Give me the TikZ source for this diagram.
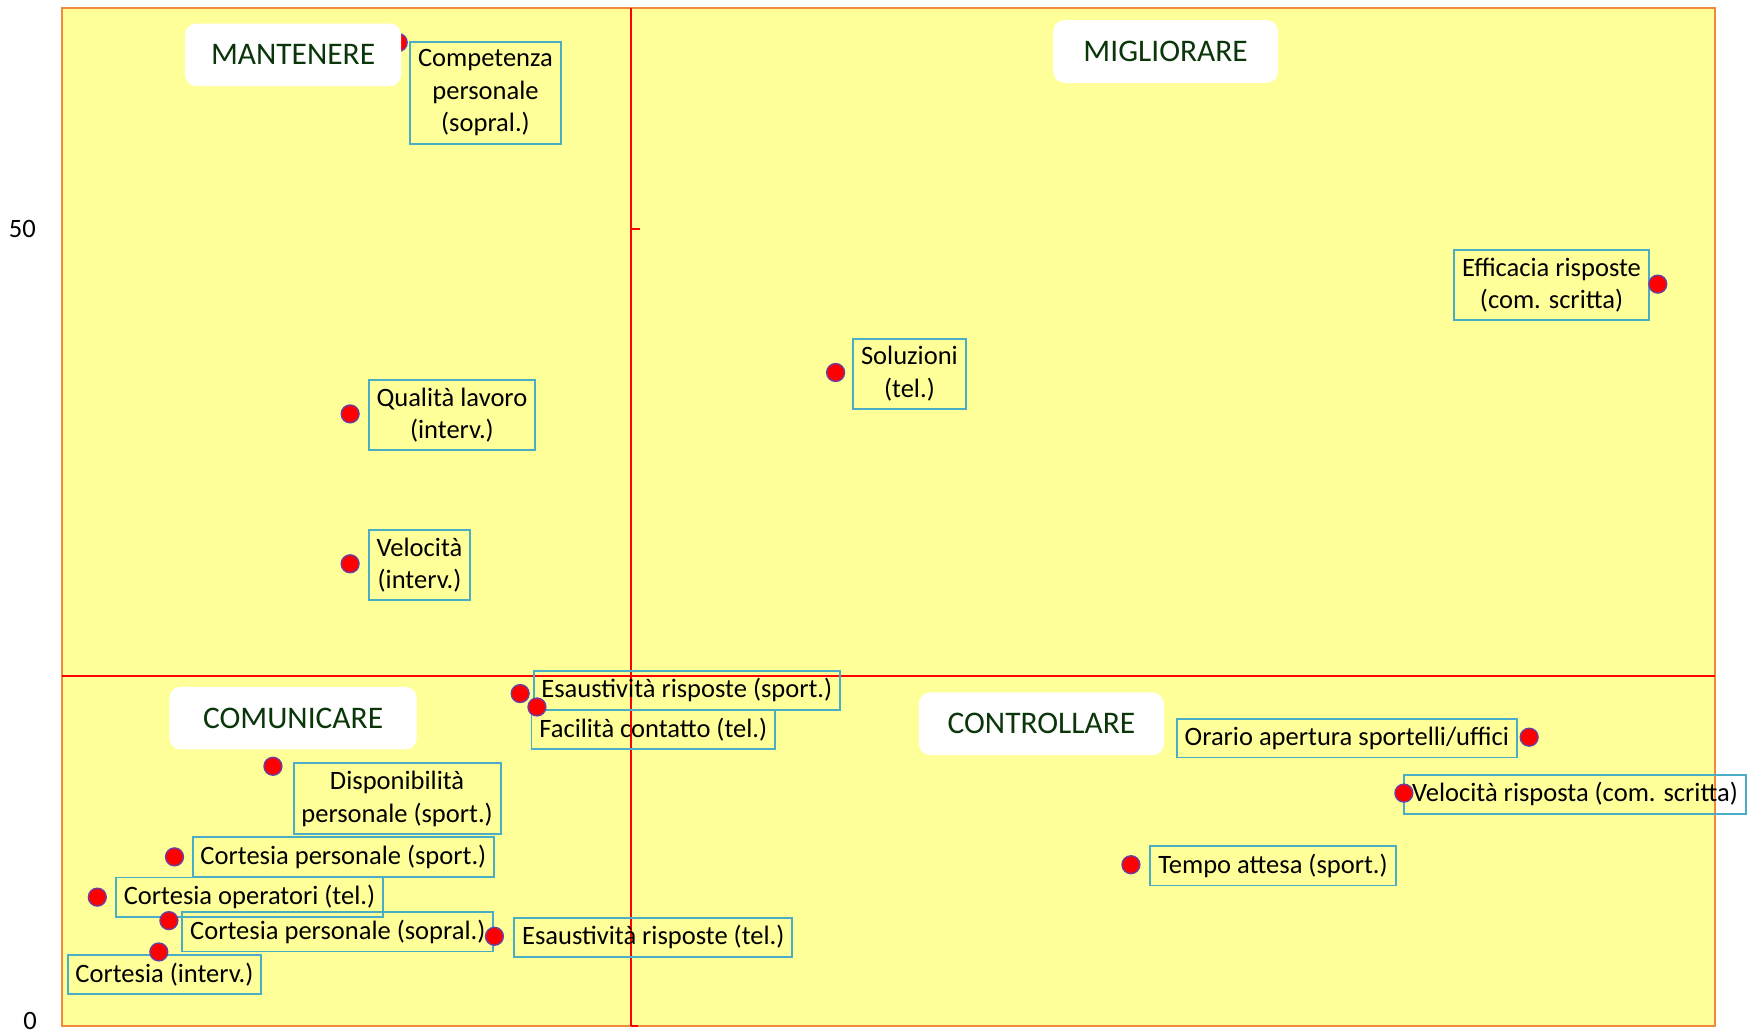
\documentclass[tikz,border=0pt]{standalone}
\usepackage{fontspec}
\setmainfont{Carlito}
\definecolor{giallo}{HTML}{FFFF99}
\definecolor{arancio}{HTML}{F08A3C}
\definecolor{azzurro}{HTML}{4BACC6}
\definecolor{viola}{HTML}{6A3FA0}
\definecolor{verdescuro}{HTML}{0A360A}

\begin{document}
\begin{tikzpicture}[x=0.02cm,y=-0.02cm,
  punto/.style={circle,fill=red,draw=viola,line width=0.7pt,minimum size=0.32cm,inner sep=0pt},
  etichetta/.style={draw=azzurro,line width=1pt,align=center,inner xsep=0.14cm,inner ysep=0.14cm,font=\fontsize{13.5}{16.5}\selectfont},
  quadrante/.style={fill=white,rounded corners=0.2cm,text=verdescuro,minimum height=1.12cm,inner xsep=0.2cm,font=\fontsize{16}{19}\selectfont},
  valore/.style={font=\fontsize{13.5}{16.5}\selectfont}]
\useasboundingbox (0,0) rectangle (1568,924);

%area del grafico
\draw[fill=giallo,draw=arancio,line width=1pt] (55,7) rectangle (1533,917);

%assi
\draw[red,line width=1pt] (564,7) -- (564,917);
\draw[red,line width=1pt] (55,604) -- (1533,604);
\draw[red,line width=1pt] (564,205) -- (572,205);
\draw[red,line width=1pt] (564,917) -- (570,917);
\node[valore] (y50) at (20,205) {50};
\node[valore] (y0) at (27,913) {0};

%etichette dei punti
\node[etichetta] (lComp) at (434,83) {Competenza\\personale\\(sopral.)};
\node[etichetta] (lEffic) at (1387,255) {Efficacia risposte\\(com. scritta)};
\node[etichetta] (lSol) at (813,334) {Soluzioni\\(tel.)};
\node[etichetta] (lQual) at (404,371) {Qualità lavoro\\(interv.)};
\node[etichetta] (lVel) at (375,505) {Velocità\\(interv.)};
\node[etichetta] (lEsSport) at (614,617) {Esaustività risposte (sport.)};
\node[etichetta] (lFac) at (584,652) {Facilità contatto (tel.)};
\node[etichetta] (lDisp) at (355,714) {Disponibilità\\personale (sport.)};
\node[etichetta] (lCortSport) at (307,766) {Cortesia personale (sport.)};
\node[etichetta] (lCortTel) at (223,802) {Cortesia operatori (tel.)};
\node[etichetta] (lCortSopr) at (302,833) {Cortesia personale (sopral.)};
\node[etichetta] (lEsTel) at (584,838) {Esaustività risposte (tel.)};
\node[etichetta] (lCortInt) at (147,871) {Cortesia (interv.)};
\node[etichetta] (lOrario) at (1204,660) {Orario apertura sportelli/uffici};
\node[etichetta] (lVelRisp) at (1408,710) {Velocità risposta (com. scritta)};
\node[etichetta] (lTempo) at (1138,774) {Tempo attesa (sport.)};

%punti
\node[punto] (pComp) at (356,38) {};
\node[punto] (pEffic) at (1482,254) {};
\node[punto] (pSol) at (747,333) {};
\node[punto] (pQual) at (313,370) {};
\node[punto] (pVel) at (313,504) {};
\node[punto] (pEsSport) at (465,620) {};
\node[punto] (pFac) at (480,632) {};
\node[punto] (pDisp) at (244,685) {};
\node[punto] (pCortSport) at (156,766) {};
\node[punto] (pCortTel) at (87,802) {};
\node[punto] (pCortSopr) at (151,823) {};
\node[punto] (pEsTel) at (442,837) {};
\node[punto] (pCortInt) at (142,851) {};
\node[punto] (pOrario) at (1367,659) {};
\node[punto] (pVelRisp) at (1255,709) {};
\node[punto] (pTempo) at (1011,773) {};

%quadranti
\node[quadrante,minimum width=3.86cm] (mantenere) at (262,49) {MANTENERE};
\node[quadrante,minimum width=4.02cm] (migliorare) at (1042,46) {MIGLIORARE};
\node[quadrante,minimum width=4.42cm] (comunicare) at (262,642) {COMUNICARE};
\node[quadrante,minimum width=4.38cm] (controllare) at (931,647) {CONTROLLARE};

\end{tikzpicture}
\end{document}
